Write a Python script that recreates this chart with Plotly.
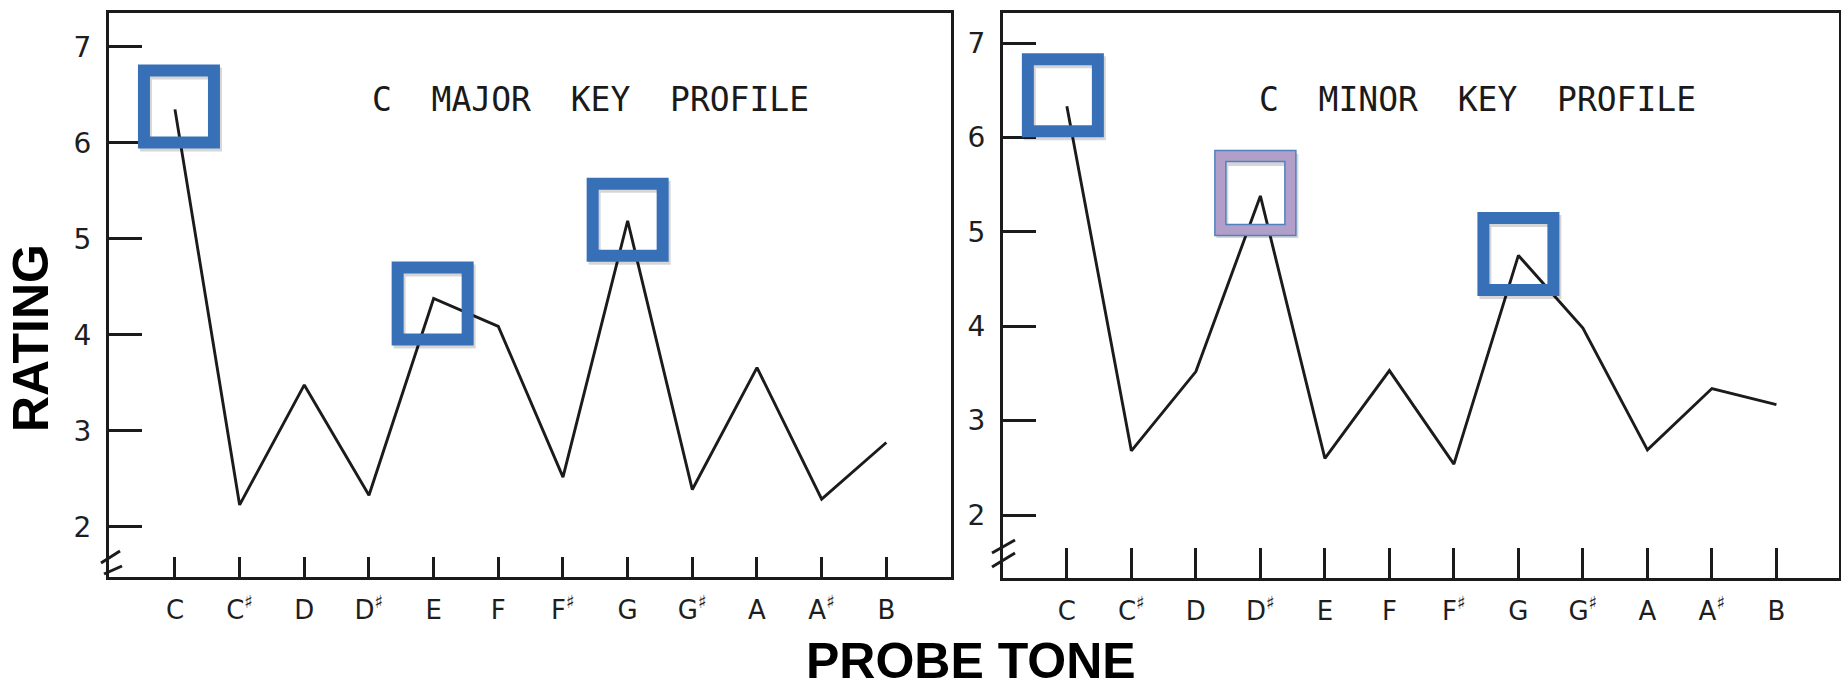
import plotly.graph_objects as go

# Probe-tone ratings for the twelve chromatic tones
notes = ["C", "C♯", "D", "D♯", "E", "F", "F♯", "G", "G♯", "A", "A♯", "B"]
note_labels = ["C", "C<sup>♯</sup>", "D", "D<sup>♯</sup>", "E", "F",
               "F<sup>♯</sup>", "G", "G<sup>♯</sup>", "A", "A<sup>♯</sup>", "B"]
major_ratings = [6.35, 2.23, 3.48, 2.33, 4.38, 4.09, 2.52, 5.19, 2.39, 3.66, 2.29, 2.88]
minor_ratings = [6.33, 2.68, 3.52, 5.38, 2.60, 3.53, 2.54, 4.75, 3.98, 2.69, 3.34, 3.17]
y_ticks = [2, 3, 4, 5, 6, 7]

# Highlighted tones per panel
major_marked = ["C", "E", "G"]
minor_marked = ["C", "D♯", "G"]
minor_purple = ["D♯"]

W, H = 1841, 689
INK = "#1b1b1b"
BLUE = "#3870b8"
PURPLE = "#b19fc9"
EDGE = "#4f81bd"

fig = go.Figure()
x_idx = list(range(len(notes)))

fig.add_trace(go.Scatter(x=x_idx, y=major_ratings, mode="lines",
                         line=dict(color=INK, width=2.9), xaxis="x", yaxis="y",
                         showlegend=False, hoverinfo="skip"))
fig.add_trace(go.Scatter(x=x_idx, y=minor_ratings, mode="lines",
                         line=dict(color=INK, width=2.9), xaxis="x2", yaxis="y2",
                         showlegend=False, hoverinfo="skip"))


def px_x(p):
    return p / W


def px_y(p):
    return (H - p) / H


tick_font = dict(family="DejaVu Sans", size=28, color="#1e1e1e")
xtick_font = dict(family="DejaVu Sans", size=26, color="#1e1e1e")

common_x = dict(tickmode="array", tickvals=x_idx, ticktext=note_labels,
                showline=True, mirror=True, linecolor=INK, linewidth=3,
                ticks="inside", tickwidth=2.5, tickcolor=INK,
                showgrid=False, zeroline=False, tickfont=xtick_font,
                ticklabelstandoff=8, fixedrange=True)
common_y = dict(tickmode="array", tickvals=y_ticks, ticktext=[str(v) for v in y_ticks],
                showline=True, mirror=True, linecolor=INK, linewidth=3,
                ticks="inside", ticklen=33, tickwidth=3, tickcolor=INK,
                showgrid=False, zeroline=False, tickfont=tick_font,
                ticklabelstandoff=9, fixedrange=True)

fig.update_layout(
    width=W, height=H,
    margin=dict(l=0, r=0, t=0, b=0),
    paper_bgcolor="white", plot_bgcolor="white",
    xaxis=dict(domain=[px_x(109), px_x(951)], range=[-1.02, 12.0],
               anchor="y", ticklen=20, **common_x),
    yaxis=dict(domain=[px_y(577), px_y(13)], range=[1.479, 7.354],
               anchor="x", **common_y),
    xaxis2=dict(domain=[px_x(1003), px_x(1839)], range=[-0.99, 11.97],
                anchor="y2", ticklen=30, **common_x),
    yaxis2=dict(domain=[px_y(578), px_y(13)], range=[1.333, 7.318],
                anchor="x2", **common_y),
)

title_font = dict(family="DejaVu Sans Mono", size=33, color="#1a1a1a")
fig.add_annotation(text="C\u00a0\u00a0MAJOR\u00a0\u00a0KEY\u00a0\u00a0PROFILE",
                   xref="x domain", yref="y domain", x=0.5724, y=0.8475,
                   xanchor="center", yanchor="middle", showarrow=False, font=title_font)
fig.add_annotation(text="C\u00a0\u00a0MINOR\u00a0\u00a0KEY\u00a0\u00a0PROFILE",
                   xref="x2 domain", yref="y2 domain", x=0.568, y=0.847,
                   xanchor="center", yanchor="middle", showarrow=False, font=title_font)

label_font = dict(family="Liberation Sans", size=50, color="black", weight=900)
fig.add_annotation(text="RATING", xref="paper", yref="paper", x=px_x(31), y=px_y(338),
                   xanchor="center", yanchor="middle", textangle=-90,
                   showarrow=False, font=label_font)
fig.add_annotation(text="PROBE TONE", xref="paper", yref="paper", x=px_x(971), y=0,
                   xanchor="center", yanchor="bottom", yshift=-2,
                   showarrow=False, font=dict(family="Liberation Sans", size=50,
                                              color="black", weight=900))

# Axis-break marks at the bottom of each rating axis
for (ax0, ay0, ax1, ay1) in [(101, 563, 120, 551), (104, 574, 122, 566),
                             (992, 553, 1015, 540), (992, 567, 1015, 553)]:
    fig.add_shape(type="line", xref="paper", yref="paper",
                  x0=px_x(ax0), y0=px_y(ay0), x1=px_x(ax1), y1=px_y(ay1),
                  line=dict(color=INK, width=3))


def highlight(xr, yr, note, values, dx, dy, purple=False):
    i = notes.index(note)
    v = values[i]
    base = dict(type="rect", xref=xr, yref=yr, xsizemode="pixel", ysizemode="pixel",
                xanchor=i, yanchor=v, layer="above")
    # soft drop shadow
    fig.add_shape(**base, x0=dx - 35 + 2, x1=dx + 35 + 2, y0=dy - 36 - 3, y1=dy + 36 - 3,
                  line=dict(color="rgba(0,0,0,0.16)", width=12))
    if purple:
        fig.add_shape(**base, x0=dx - 35, x1=dx + 35, y0=dy - 37, y1=dy + 37,
                      line=dict(color=PURPLE, width=11))
        fig.add_shape(**base, x0=dx - 40.5, x1=dx + 40.5, y0=dy - 42.5, y1=dy + 42.5,
                      line=dict(color=EDGE, width=1.5))
        fig.add_shape(**base, x0=dx - 29.5, x1=dx + 29.5, y0=dy - 31.5, y1=dy + 31.5,
                      line=dict(color=EDGE, width=1.5))
    else:
        fig.add_shape(**base, x0=dx - 35, x1=dx + 35, y0=dy - 36, y1=dy + 36,
                      line=dict(color=BLUE, width=12))


# pixel nudges of each frame relative to its point
major_offsets = {"C": (4, 3), "E": (-1, -5), "G": (0, 1)}
minor_offsets = {"C": (-4, 11), "D♯": (-5, 3), "G": (0, 1.5)}

for n in major_marked:
    highlight("x", "y", n, major_ratings, *major_offsets[n])
for n in minor_marked:
    highlight("x2", "y2", n, minor_ratings, *minor_offsets[n], purple=n in minor_purple)

fig.write_html("out.html")
